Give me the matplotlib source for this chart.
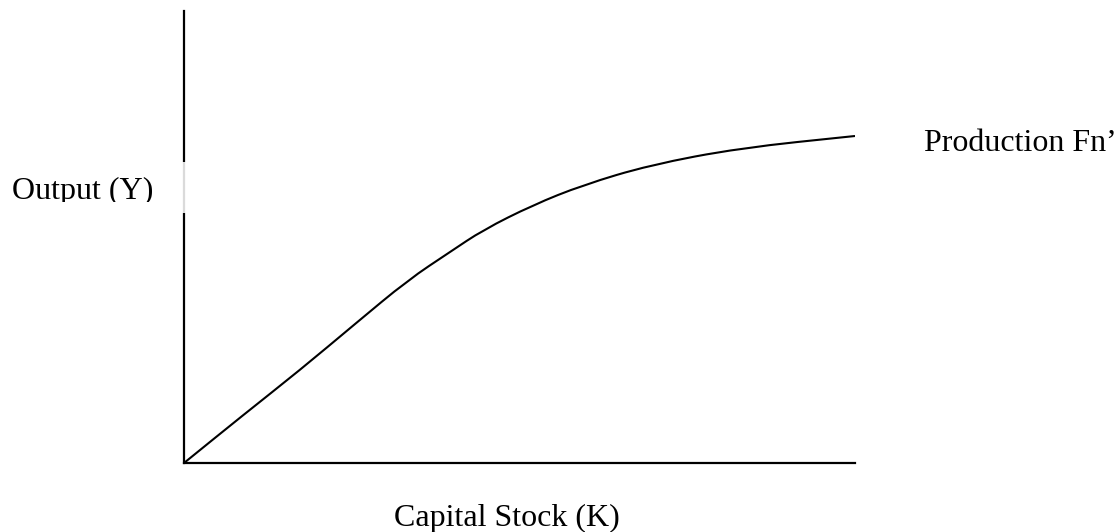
import matplotlib
matplotlib.use("Agg")
import matplotlib.pyplot as plt
from matplotlib.patches import Rectangle, PathPatch
from matplotlib.path import Path
from matplotlib.transforms import Bbox

# production function (axis units = pixels from origin)
capital = [0, 58, 116, 171, 224, 266, 299, 349, 399, 466, 556, 671]
output = [0, 47, 93, 139, 183, 211, 233, 258, 278, 298, 315, 327]

x_label = "Capital Stock (K)"
y_label = "Output (Y)"
curve_label = "Production Fn\u2019"

W, H = 1119, 532
plt.rcParams["font.family"] = ["Liberation Serif", "DejaVu Serif"]


def smooth_path(xs, ys):
    # quadratic bezier through midpoints, so the drawn curve has no corners
    pts = list(zip(xs, ys))
    verts = [pts[0]]
    codes = [Path.MOVETO]
    mid = lambda a, b: ((a[0] + b[0]) / 2, (a[1] + b[1]) / 2)
    verts.append(mid(pts[0], pts[1]))
    codes.append(Path.LINETO)
    for i in range(1, len(pts) - 1):
        verts += [pts[i], mid(pts[i], pts[i + 1])]
        codes += [Path.CURVE3, Path.CURVE3]
    verts.append(pts[-1])
    codes.append(Path.LINETO)
    return Path(verts, codes)


fig = plt.figure(figsize=(W / 100, H / 100), dpi=100)
ax = fig.add_axes([184 / W, (H - 463) / H, (855 - 184) / W, (463 - 11) / H])
ax.set_xlim(0, 671)
ax.set_ylim(0, 452)
ax.add_patch(PathPatch(smooth_path(capital, output), facecolor="none",
                       edgecolor="black", lw=1.5, capstyle="butt"))
for s in ("top", "right"):
    ax.spines[s].set_visible(False)
for s in ("left", "bottom"):
    ax.spines[s].set_linewidth(1.6)
ax.set_xticks([])
ax.set_yticks([])
ax.patch.set_alpha(0)

# label box sitting over the y axis (partly see-through)
fig.patches.append(Rectangle((0, (H - 213) / H), 188 / W, 51 / H, transform=fig.transFigure,
                             facecolor="white", alpha=0.86, edgecolor="none", zorder=5))
t = fig.text(12 / W, (H - 199) / H, y_label, fontsize=23, va="baseline", ha="left", zorder=6)
t.set_clip_box(Bbox([[0, H - 202], [188, H - 162]]))

fig.text(507 / W, (H - 526) / H, x_label, fontsize=23, va="baseline", ha="center")
fig.text(924 / W, (H - 151) / H, curve_label, fontsize=23, va="baseline", ha="left")

fig.savefig("out.png", dpi=100)
